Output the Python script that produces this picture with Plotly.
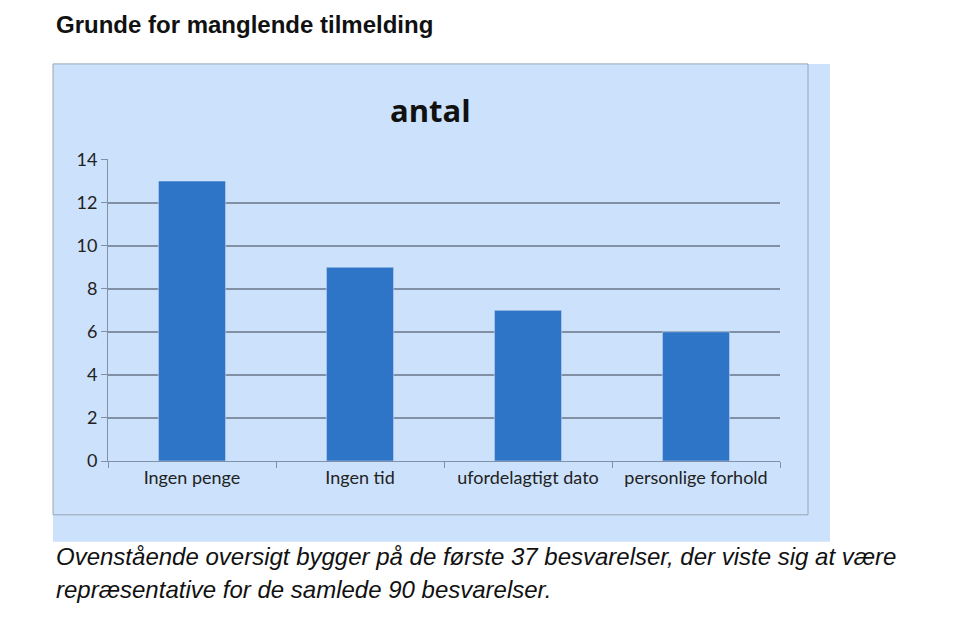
import plotly.graph_objects as go

W, H = 960, 620

categories = ["Ingen penge", "Ingen tid", "ufordelagtigt dato", "personlige forhold"]
antal = [13, 9, 7, 6]
y_ticks = [0, 2, 4, 6, 8, 10, 12, 14]


# the page is drawn a little shifted/squeezed, so correct pixel positions here
def px(x):
    return (x - 8) / W


def py(y):
    return 1 - ((y - 17.9) / 0.969) / H


fig = go.Figure()
fig.add_trace(go.Bar(x=categories, y=antal, marker_color="#2E75C8", width=0.4))

grid = "#8290a6"
fig.update_layout(
    width=W, height=H,
    margin=dict(l=0, r=0, t=0, b=0),
    paper_bgcolor="white",
    plot_bgcolor="rgba(0,0,0,0)",
    showlegend=False,
    font=dict(family="Lato, Open Sans, sans-serif", color="#222", size=18),
    bargap=0.6,
    xaxis=dict(domain=[px(108), px(780)], showline=True, linecolor=grid,
               ticks="outside", tickson="boundaries", ticklen=6, tickcolor=grid,
               tickfont=dict(size=18, color="#222")),
    yaxis=dict(domain=[py(461), py(158)], range=[0, 14], tickvals=y_ticks,
               showline=True, linecolor=grid, gridcolor=grid, gridwidth=1.5,
               ticks="outside", ticklen=6, tickcolor=grid, zeroline=False,
               tickfont=dict(size=18, color="#222")),
    shapes=[
        dict(type="rect", xref="paper", yref="paper", layer="below",
             x0=px(53), x1=px(830), y0=py(542), y1=py(62),
             fillcolor="#cce1fb", line=dict(width=0)),
        dict(type="rect", xref="paper", yref="paper", layer="below",
             x0=px(53), x1=px(808), y0=py(515), y1=py(62),
             fillcolor="rgba(0,0,0,0)", line=dict(color="#9aa6b4", width=1)),
    ],
    annotations=[
        dict(text="<b>Grunde for manglende tilmelding</b>", xref="paper", yref="paper",
             x=px(54), y=py(22), xanchor="left", yanchor="middle", showarrow=False,
             font=dict(family="Liberation Sans, Arial, sans-serif", size=24, color="#111")),
        dict(text="<b>antal</b>", xref="paper", yref="paper",
             x=px(430), y=py(108), xanchor="center", yanchor="middle", showarrow=False,
             font=dict(family="Open Sans, sans-serif", size=31, color="#111")),
        dict(text="<i>Ovenstående oversigt bygger på de første 37 besvarelser, der viste sig at være</i>",
             xref="paper", yref="paper", x=px(54), y=py(557), xanchor="left", yanchor="middle",
             showarrow=False,
             font=dict(family="Liberation Sans, Arial, sans-serif", size=24, color="#111")),
        dict(text="<i>repræsentative for de samlede 90 besvarelser.</i>",
             xref="paper", yref="paper", x=px(54), y=py(590), xanchor="left", yanchor="middle",
             showarrow=False,
             font=dict(family="Liberation Sans, Arial, sans-serif", size=24, color="#111")),
    ],
)

fig.write_html("out.html")
